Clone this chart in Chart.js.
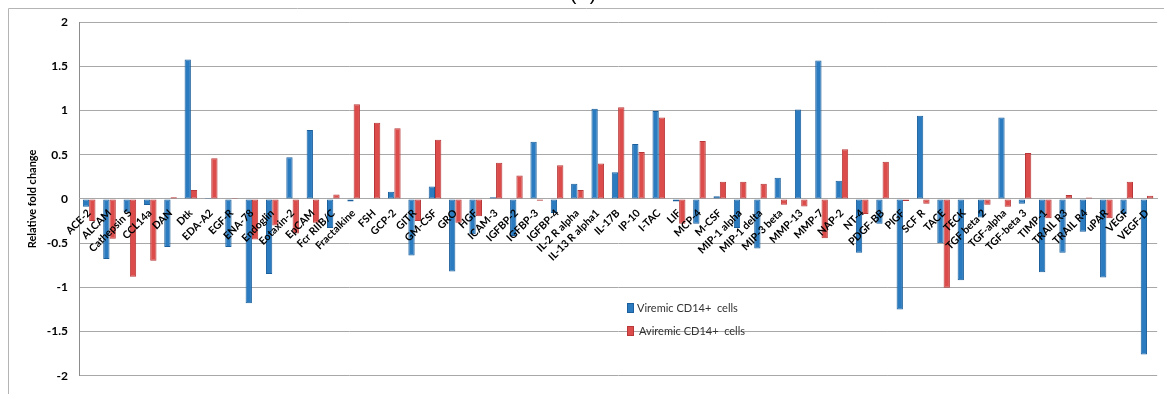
<!DOCTYPE html>
<html>
<head>
<meta charset="utf-8">
<script src="https://cdn.jsdelivr.net/npm/chart.js@4/dist/chart.umd.min.js"></script>
<style>
  html, body { margin: 0; padding: 0; background: #fff; }
  #wrap { position: absolute; left: 0; top: 0; width: 1164px; height: 394px; }
</style>
</head>
<body>
<div id="wrap"><canvas id="c" width="1164" height="394"></canvas></div>
<script>
const categories = ["ACE-2","ALCAM","Cathepsin S","CCL14a","DAN","Dtk","EDA-A2","EGF-R","ENA-78","Endoglin","Eotaxin-2","EpCAM","Fcr RIIB/C","Fractalkine","FSH","GCP-2","GITR","GM-CSF","GRO","HGF","ICAM-3","IGFBP-2","IGFBP-3","IGFBP-4","IL-2 R alpha","IL-13 R alpha1","IL-17B","IP-10","I-TAC","LIF","MCP-4","M-CSF","MIP-1 alpha","MIP-1 delta","MIP-3 beta","MMP-13","MMP-7","NAP-2","NT-4","PDGF-BB","PlGF","SCF R","TACE","TECK","TGF beta 2","TGF-alpha","TGF-beta 3","TIMP-1","TRAIL R3","TRAIL R4","uPAR","VEGF","VEGF-D"];

const viremic = [-0.09,-0.68,-0.15,-0.07,-0.545,1.575,0.01,-0.545,-1.18,-0.85,0.47,0.78,-0.33,-0.03,0,0.08,-0.64,0.14,-0.82,-0.4,0.02,-0.42,0.645,-0.16,0.17,1.02,0.30,0.62,0.995,-0.03,-0.28,0.03,-0.33,-0.56,0.24,1.01,1.565,0.205,-0.61,-0.28,-1.25,0.94,-0.50,-0.92,-0.21,0.92,-0.055,-0.83,-0.61,-0.37,-0.89,-0.17,-1.76];

const aviremic = [-0.25,-0.45,-0.88,-0.70,0.02,0.10,0.46,0.01,-0.46,-0.3,-0.39,-0.27,0.05,1.07,0.86,0.80,-0.25,0.67,-0.27,-0.195,0.41,0.265,-0.02,0.38,0.10,0.40,1.035,0.53,0.92,-0.28,0.655,0.195,0.195,0.17,-0.065,-0.085,-0.445,0.56,-0.17,0.42,-0.025,-0.055,-1.005,-0.01,-0.065,-0.09,0.52,-0.22,0.045,0.015,-0.22,0.195,0.035];

const seriesNames = ["Viremic CD14+  cells", "Aviremic CD14+  cells"];
const yTicks = [-2, -1.5, -1, -0.5, 0, 0.5, 1, 1.5, 2];

const framePlugin = {
  id: 'frame',
  beforeDraw(chart) {
    const ctx = chart.ctx;
    ctx.save();
    ctx.strokeStyle = '#b4b4b4';
    ctx.lineWidth = 1;
    ctx.beginPath();
    ctx.moveTo(8.5, 400);
    ctx.lineTo(8.5, 8.5);
    ctx.lineTo(1164, 8.5);
    ctx.stroke();
    ctx.fillStyle = '#000';
    ctx.font = '20px "Liberation Sans", Arial, sans-serif';
    ctx.textAlign = 'center';
    ctx.textBaseline = 'alphabetic';
    ctx.fillText('(A)', 583, 0);
    ctx.restore();
  },
  afterDraw(chart) {
    const ctx = chart.ctx;
    ctx.save();
    const items = [
      {ds: chart.data.datasets[0], x: 627, y: 303, tx: 637},
      {ds: chart.data.datasets[1], x: 627, y: 326, tx: 639}
    ];
    ctx.font = '11px Lato, "Open Sans", sans-serif';
    ctx.textBaseline = 'middle';
    ctx.textAlign = 'left';
    items.forEach(it => {
      ctx.fillStyle = it.ds.backgroundColor;
      ctx.fillRect(it.x, it.y, 6, 9);
      ctx.strokeStyle = it.ds.borderColor;
      ctx.lineWidth = 1;
      ctx.strokeRect(it.x + 0.5, it.y + 0.5, 6, 9);
      ctx.fillStyle = '#333';
      ctx.fillText(it.ds.label, it.tx, it.y + 5);
    });
    ctx.restore();
  }
};

new Chart(document.getElementById('c'), {
  type: 'bar',
  data: {
    labels: categories,
    datasets: [
      { label: seriesNames[0], data: viremic, backgroundColor: '#2a7bc0', borderColor: '#1b5f9c', borderWidth: 1, borderSkipped: false },
      { label: seriesNames[1], data: aviremic, backgroundColor: '#dc4c4a', borderColor: '#b8383a', borderWidth: 1, borderSkipped: false }
    ]
  },
  options: {
    responsive: false,
    animation: false,
    layout: { padding: { left: 0, top: 22, right: 6, bottom: 8 } },
    plugins: { legend: { display: false }, title: { display: false }, tooltip: { enabled: false } },
    datasets: { bar: { categoryPercentage: 0.62, barPercentage: 1.0 } },
    scales: {
      y: {
        min: -2, max: 2,
        afterFit(s) { s.width = 79; },
        afterBuildTicks(s) { s.ticks = yTicks.map(v => ({ value: v })); },
        grid: { color: '#a8a8a8', lineWidth: 1, drawTicks: false },
        border: { display: true, color: '#8c8c8c', width: 1 },
        ticks: {
          padding: 11,
          color: '#000',
          callback: (v) => String(v),
          font: { family: 'Lato, "Open Sans", sans-serif', weight: 'bold', size: 12 }
        },
        title: {
          display: true,
          text: 'Relative fold change',
          color: '#000',
          font: { family: 'Lato, "Open Sans", sans-serif', weight: 'bold', size: 11 },
          padding: { top: 26, bottom: 0 }
        }
      },
      x: {
        position: { y: 0 },
        grid: { display: false, drawTicks: false },
        border: { display: true, color: '#a8a8a8', width: 1 },
        ticks: {
          z: 1,
          autoSkip: false,
          minRotation: 45,
          maxRotation: 45,
          padding: 8,
          color: '#000',
          font: { family: 'Lato, "Open Sans", sans-serif', weight: 'bold', size: 10.5 }
        }
      }
    }
  },
  plugins: [framePlugin]
});
</script>
</body>
</html>
